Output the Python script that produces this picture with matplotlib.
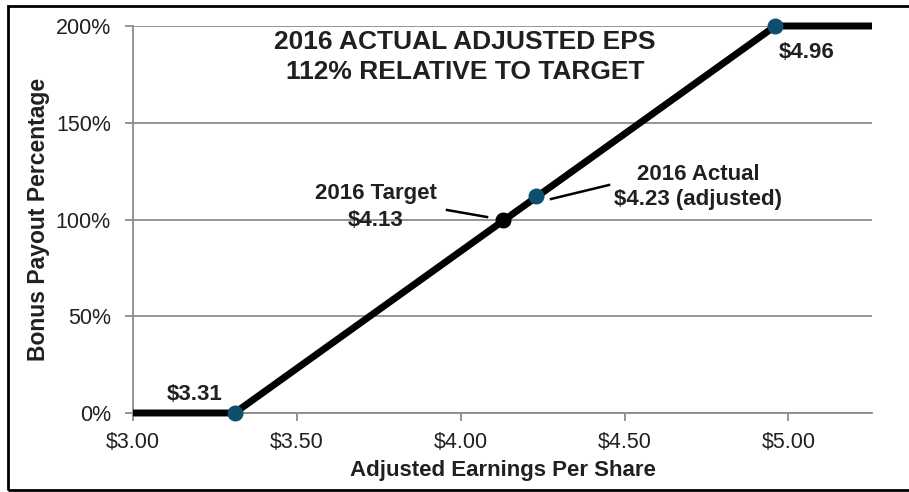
import matplotlib
matplotlib.use("Agg")
import matplotlib.pyplot as plt
from matplotlib.patches import Rectangle

plt.rcParams['font.family'] = ['Liberation Sans', 'DejaVu Sans']

# Data
curve_x = [3.00, 3.31, 4.96, 5.255]
curve_y = [0, 0, 200, 200]
target_x, target_y = 4.13, 100
actual_x, actual_y = 4.23, 112
thresh_x, thresh_y = 3.31, 0
max_x, max_y = 4.96, 200
xticks = [3.00, 3.50, 4.00, 4.50, 5.00]
xtick_labels = ["$3.00", "$3.50", "$4.00", "$4.50", "$5.00"]
yticks = [0, 50, 100, 150, 200]
ytick_labels = ["0%", "50%", "100%", "150%", "200%"]

TXT = "#231f20"
GRID = "#8c8c8c"
BLUE = "#0e4f6e"

W, H = 909, 492
fig = plt.figure(figsize=(W/100, H/100), dpi=100)
ax = fig.add_axes([133/W, 1-413/H, (872-133)/W, (413-26)/H])

ax.plot(curve_x, curve_y, color="black", lw=5, solid_capstyle="butt", zorder=3, clip_on=False)
ax.plot([thresh_x, actual_x, max_x], [thresh_y, actual_y, max_y], 'o', color=BLUE, ms=10.5,
        zorder=4, mec=BLUE, clip_on=False)
ax.plot([target_x], [target_y], 'o', color="black", ms=10.5, zorder=4, clip_on=False)

ax.set_xlim(3.0, 5.255)
ax.set_ylim(0, 200)
ax.set_xticks(xticks)
ax.set_xticklabels(xtick_labels)
ax.set_yticks(yticks)
ax.set_yticklabels(ytick_labels)
ax.yaxis.grid(True, color=GRID, lw=1.3)
ax.set_axisbelow(True)
for s in ["top", "right"]:
    ax.spines[s].set_visible(False)
for s in ["left", "bottom"]:
    ax.spines[s].set_color(GRID)
    ax.spines[s].set_linewidth(1.3)
ax.spines["bottom"].set_zorder(2)
ax.tick_params(axis="both", colors=GRID, labelcolor=TXT, labelsize=15.5, length=6, width=1.3)
ax.tick_params(axis="y", pad=10)
ax.tick_params(axis="x", pad=8)

ax.set_xlabel("Adjusted Earnings Per Share", fontsize=16, fontweight="bold", color=TXT, labelpad=5)
ax.set_ylabel("Bonus Payout Percentage", fontsize=16.5, fontweight="bold", color=TXT, labelpad=4)

# Title inside
fig.text(465/W, 1-42/H, "2016 ACTUAL ADJUSTED EPS", ha="center", va="center", fontsize=19, fontweight="bold", color=TXT)
fig.text(465/W, 1-72/H, "112% RELATIVE TO TARGET", ha="center", va="center", fontsize=19, fontweight="bold", color=TXT)

# Annotations
fs = 16
fig.text(195/W, 1-395/H, "$3.31", ha="center", va="center", fontsize=fs, fontweight="bold", color=TXT)
fig.text(807/W, 1-52/H, "$4.96", ha="center", va="center", fontsize=fs, fontweight="bold", color=TXT)
fig.text(376/W, 1-193/H, "2016 Target", ha="center", va="center", fontsize=fs, fontweight="bold", color=TXT)
fig.text(376/W, 1-220/H, "$4.13", ha="center", va="center", fontsize=fs, fontweight="bold", color=TXT)
fig.text(698/W, 1-175/H, "2016 Actual", ha="center", va="center", fontsize=fs, fontweight="bold", color=TXT)
fig.text(698/W, 1-199/H, "$4.23 (adjusted)", ha="center", va="center", fontsize=fs, fontweight="bold", color=TXT)

# leader lines (figure coords)
fig.add_artist(plt.Line2D([447/W, 487/W], [1-210/H, 1-217/H], color="black", lw=1.8))
fig.add_artist(plt.Line2D([551/W, 609/W], [1-199/H, 1-185/H], color="black", lw=1.8))

# Border
fig.add_artist(Rectangle((8/W, 1-490/H), 1.2, (490-6)/H, fill=False, ec="black", lw=2, transform=fig.transFigure))

fig.savefig("out.png", dpi=100, facecolor="white")
